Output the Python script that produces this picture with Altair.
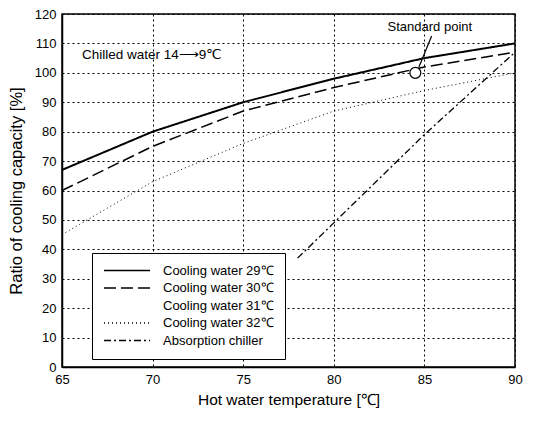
import altair as alt
import pandas as pd

series_names = ["Cooling water 29℃", "Cooling water 30℃", "Cooling water 31℃",
                "Cooling water 32℃", "Absorption chiller"]

x_29 = [65, 70, 75, 80, 85, 90]
y_29 = [67, 80, 90, 98, 105, 110]
x_30 = [65, 70, 75, 80, 85, 90]
y_30 = [60, 75, 87, 95, 102, 107]
x_32 = [65, 70, 75, 80, 85, 90]
y_32 = [45, 63, 76, 87, 94, 100]
x_abs = [78, 80, 85, 90]
y_abs = [37, 49, 79, 107]

std_x = [84.5]
std_y = [100]
arrow_x = [84.7]
arrow_y = [102]
arrow_x2 = [85.4]
arrow_y2 = [112.5]
std_label_x = [85.3]
std_label_y = [115.5]
chilled_x = [66.1]
chilled_y = [106]

FONT = "Liberation Sans"

xs = alt.Scale(domain=[65, 90], nice=False)
ys = alt.Scale(domain=[0, 120], nice=False)
dash_scale = alt.Scale(domain=series_names,
                       range=[[1, 0], [12, 5], [0, 1000], [1, 3], [7, 3, 2, 3]])

x_enc = alt.X("x:Q", scale=xs, title="Hot water temperature [℃]",
              axis=alt.Axis(values=[65, 70, 75, 80, 85, 90], grid=True,
                            gridColor="black", gridDash=[2, 3], gridWidth=1,
                            labelOverlap=False, labelFlush=False, titleFontSize=15.5))
y_enc = alt.Y("y:Q", scale=ys, title="Ratio of cooling capacity [%]",
              axis=alt.Axis(values=list(range(0, 121, 10)), grid=True,
                            gridColor="black", gridDash=[2, 3], gridWidth=1,
                            labelOverlap=False, labelFlush=False, titleFontSize=16.5))
legend = alt.Legend(title=None, orient="none", legendX=30, legendY=239,
                    symbolType="stroke", symbolSize=2116, symbolStrokeColor="black",
                    symbolStrokeWidth=1.5, clipHeight=13,
                    labelFont=FONT, labelFontSize=13, labelColor="black",
                    labelOffset=12, rowPadding=3.5,
                    strokeColor="black", fillColor="white", padding=11)

layers = []
for name, xv, yv, w in [(series_names[0], x_29, y_29, 2.0),
                        (series_names[1], x_30, y_30, 1.5),
                        (series_names[3], x_32, y_32, 1.0),
                        (series_names[4], x_abs, y_abs, 1.3)]:
    d = pd.DataFrame({"x": xv, "y": yv, "series": [name] * len(xv)})
    layers.append(alt.Chart(d).mark_line(color="black", strokeWidth=w).encode(
        x=x_enc, y=y_enc,
        strokeDash=alt.StrokeDash("series:N", scale=dash_scale, legend=legend)))

std_df = pd.DataFrame({"x": std_x, "y": std_y})
std_pt = alt.Chart(std_df).mark_point(shape="circle", filled=False, size=120,
                                      stroke="black", strokeWidth=1.2, fill="white",
                                      fillOpacity=1).encode(x=x_enc, y=y_enc)

arrow_df = pd.DataFrame({"x": arrow_x, "y": arrow_y, "x2": arrow_x2, "y2": arrow_y2})
arrow = alt.Chart(arrow_df).mark_rule(color="black", strokeWidth=1.2).encode(
    x=x_enc, y=y_enc, x2="x2:Q", y2="y2:Q")

std_txt_df = pd.DataFrame({"x": std_label_x, "y": std_label_y, "t": ["Standard point"]})
std_txt = alt.Chart(std_txt_df).mark_text(font=FONT, fontSize=13, color="black",
                                          align="center", baseline="middle").encode(
    x=x_enc, y=y_enc, text="t:N")

ch_df = pd.DataFrame({"x": chilled_x, "y": chilled_y, "t": ["Chilled water 14⟶9℃"]})
ch_txt = alt.Chart(ch_df).mark_text(font=FONT, fontSize=13.5, color="black",
                                    align="left", baseline="middle").encode(
    x=x_enc, y=y_enc, text="t:N")

chart = alt.layer(*layers, std_pt, arrow, std_txt, ch_txt).properties(
    width=453, height=353,
    autosize=alt.AutoSizeParams(type="none"),
    padding={"left": 54, "top": 6, "right": 8, "bottom": 46},
    background="white",
).configure_view(stroke="black", strokeWidth=1.5).configure_axis(
    domainColor="black", domainWidth=1.5, ticks=False,
    labelFont=FONT, labelFontSize=13, labelColor="black", labelPadding=6,
    titleFont=FONT, titleColor="black", titleFontWeight="normal",
).configure_axisY(titlePadding=10).configure_axisX(titlePadding=6)

chart.save("out.html", embed_options={"renderer": "svg", "actions": False})
